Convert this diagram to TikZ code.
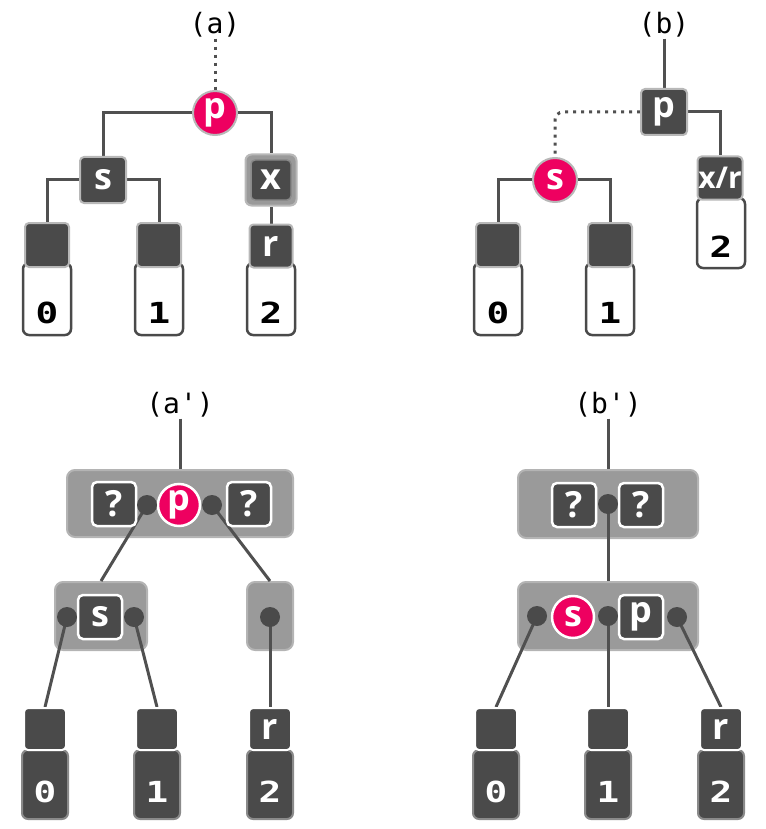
\documentclass[tikz,border=0pt]{standalone}
\usepackage{fontspec}
\newfontfamily\lblfont{Open Sans}
\setmonofont{DejaVu Sans Mono}
\newfontfamily\digitfont{DejaVu Sans Mono}[FakeStretch=1.3, Ligatures=ResetAll]
\definecolor{dk}{HTML}{4A4A4A}
\definecolor{pk}{HTML}{EE0060}
\definecolor{grpf}{HTML}{9A9A9A}
\definecolor{grpb}{HTML}{B4B4B4}
\definecolor{lt}{HTML}{B8B8B8}
\definecolor{ln}{HTML}{505050}
\definecolor{rim}{HTML}{8A8A8A}
\pgfdeclarelayer{back}
\pgfdeclarelayer{mid}
\pgfsetlayers{back,mid,main}
\tikzset{
  conn/.style={draw=ln, line width=3pt},
  dotline/.style={draw=ln, line width=3pt, dash pattern=on 3pt off 5pt},
  lbl/.style={text=white, font={\lblfont\bfseries\fontsize{36}{36}\selectfont}, inner sep=0pt},
  dbox/.style={rectangle, rounded corners=4pt, fill=dk, draw=lt, line width=2pt, minimum size=44pt, lbl},
  wbox/.style={rectangle, rounded corners=5pt, fill=dk, draw=white, line width=2.5pt, minimum size=44pt, lbl},
  pcirc/.style={circle, fill=pk, draw=lt, line width=2pt, minimum size=44pt, lbl},
  wcirc/.style={circle, fill=pk, draw=white, line width=2.5pt, minimum size=42pt, lbl},
  xouter/.style={rectangle, rounded corners=6pt, fill=grpf, draw=lt, line width=2pt, minimum size=51pt},
  dot/.style={circle, fill=dk, minimum size=20pt, inner sep=0pt},
  grpbox/.style={rectangle, rounded corners=8pt, fill=grpf, draw=grpb, line width=2pt},
  digit/.style={font={\digitfont\bfseries\fontsize{29}{29}\selectfont}},
  wleaf/.style={rectangle, rounded corners=6pt, fill=white, draw=dk, line width=2.5pt,
    minimum width=48pt, text height=60pt, text depth=12pt, inner sep=0pt, digit, text=black},
  dleaf/.style={rectangle, rounded corners=6pt, fill=dk, draw=rim, line width=2pt,
    minimum width=46pt, text height=52pt, text depth=17pt, inner sep=0pt, digit, text=white},
  dsq/.style={rectangle, rounded corners=4pt, fill=dk, draw=white, line width=2pt, minimum size=42pt, lbl},
  ttl/.style={font={\ttfamily\fontsize{28}{28}\selectfont}, inner sep=1pt, text=black}
}
\begin{document}
\begin{tikzpicture}[x=1pt,y=-1pt]
\useasboundingbox (0,0) rectangle (765,829);
% ---------- (a)
\node[ttl] (ta) at (215,25) {(a)};
\node[pcirc] (pa) at (215,113) {p};
\node[dbox, minimum size=46pt] (sa) at (103,180) {s};
\node[xouter] (xa) at (271,180) {};
\node[dbox, draw=rim, line width=1.5pt, minimum size=40pt] (xai) at (271,180) {x};
\node[wleaf] (la0) at (47,299) {0};
\node[dbox] (ka0) at (47,245) {};
\node[wleaf] (la1) at (159,299) {1};
\node[dbox] (ka1) at (159,245) {};
\node[wleaf] (la2) at (271,299) {2};
\node[dbox, minimum size=43pt] (ka2) at (271,246) {r};
\begin{pgfonlayer}{mid}
\draw[dotline] (ta.south) -- (pa.north);
\draw[conn] (pa.west) -| (sa.north);
\draw[conn] (pa.east) -| (xa.north);
\draw[conn] (sa.west) -| (ka0.north);
\draw[conn] (sa.east) -| (ka1.north);
\draw[conn] (xa.south) -- (ka2.north);
\end{pgfonlayer}
% ---------- (b)
\node[ttl] (tb) at (664,25) {(b)};
\node[dbox, minimum size=46pt] (pb) at (664,112) {p};
\node[pcirc] (sb) at (555,180) {s};
\node[wleaf, text height=59pt, text depth=11pt] (lb2) at (721,233) {2};
\node[dbox, minimum width=45pt, minimum height=43pt, font={\lblfont\bfseries\fontsize{30}{30}\selectfont}] (xrb) at (720,178) {x/r};
\node[wleaf] (lb0) at (498,299) {0};
\node[dbox] (kb0) at (498,245) {};
\node[wleaf] (lb1) at (610,299) {1};
\node[dbox] (kb1) at (610,245) {};
\begin{pgfonlayer}{mid}
\draw[conn] (tb.south) -- (pb.north);
\draw[dotline, rounded corners=8pt] (pb.west) -| (sb.north);
\draw[conn] (pb.east) -| (xrb.north);
\draw[conn] (sb.west) -| (kb0.north);
\draw[conn] (sb.east) -| (kb1.north);
\end{pgfonlayer}
% ---------- (a')
\node[ttl] (tc) at (180,405) {(a')};
\begin{pgfonlayer}{back}
\node[grpbox, minimum width=226pt, minimum height=67pt] (gc1) at (180,503.5) {};
\node[grpbox, minimum width=92pt, minimum height=68pt] (gc2) at (101,616) {};
\node[grpbox, minimum width=46pt, minimum height=68pt] (gc3) at (270,616) {};
\end{pgfonlayer}
\node[wbox] (qc1) at (114,504) {?};
\node[wbox] (qc2) at (249,504) {?};
\node[wcirc] (pc) at (179,505) {p};
\node[dot] (dc1) at (147,505) {};
\node[dot] (dc2) at (212,505) {};
\node[wbox] (sc) at (100,617) {s};
\node[dot] (dc3) at (67,617) {};
\node[dot] (dc4) at (134,617) {};
\node[dot] (dc5) at (270,617) {};
\node[dleaf] (lc0) at (45,784.5) {0};
\node[dsq] (kc0) at (45,729) {};
\node[dleaf] (lc1) at (157,784.5) {1};
\node[dsq] (kc1) at (157,729) {};
\node[dleaf] (lc2) at (270,784.5) {2};
\node[dsq] (kc2) at (270,729) {r};
\begin{pgfonlayer}{mid}
\draw[conn] (tc.south) -- (gc1.north);
\draw[conn] (dc1.center) -- (gc2.north);
\draw[conn] (dc2.center) -- (gc3.north);
\draw[conn] (dc3.center) -- (kc0.north);
\draw[conn] (dc4.center) -- (kc1.north);
\draw[conn] (dc5.center) -- (kc2.north);
\end{pgfonlayer}
% ---------- (b')
\node[ttl] (td) at (608,405) {(b')};
\begin{pgfonlayer}{back}
\node[grpbox, minimum width=180pt, minimum height=68pt] (gd1) at (608,504) {};
\node[grpbox, minimum width=180pt, minimum height=68pt] (gd2) at (608,616) {};
\end{pgfonlayer}
\node[wbox] (qd1) at (574,505) {?};
\node[wbox] (qd2) at (641,505) {?};
\node[dot] (dd1) at (608,504) {};
\node[wcirc] (sd) at (573,617) {s};
\node[wbox] (pd) at (641,617) {p};
\node[dot] (dd2) at (537,616) {};
\node[dot] (dd3) at (608,616) {};
\node[dot] (dd4) at (677,617) {};
\node[dleaf] (ld0) at (496,784.5) {0};
\node[dsq] (kd0) at (496,729) {};
\node[dleaf] (ld1) at (608,784.5) {1};
\node[dsq] (kd1) at (608,729) {};
\node[dleaf] (ld2) at (721,784.5) {2};
\node[dsq] (kd2) at (721,729) {r};
\begin{pgfonlayer}{mid}
\draw[conn] (td.south) -- (gd1.north);
\draw[conn] (dd1.center) -- (gd2.north);
\draw[conn] (dd2.center) -- (kd0.north);
\draw[conn] (dd3.center) -- (kd1.north);
\draw[conn] (dd4.center) -- (kd2.north);
\end{pgfonlayer}
\end{tikzpicture}
\end{document}
